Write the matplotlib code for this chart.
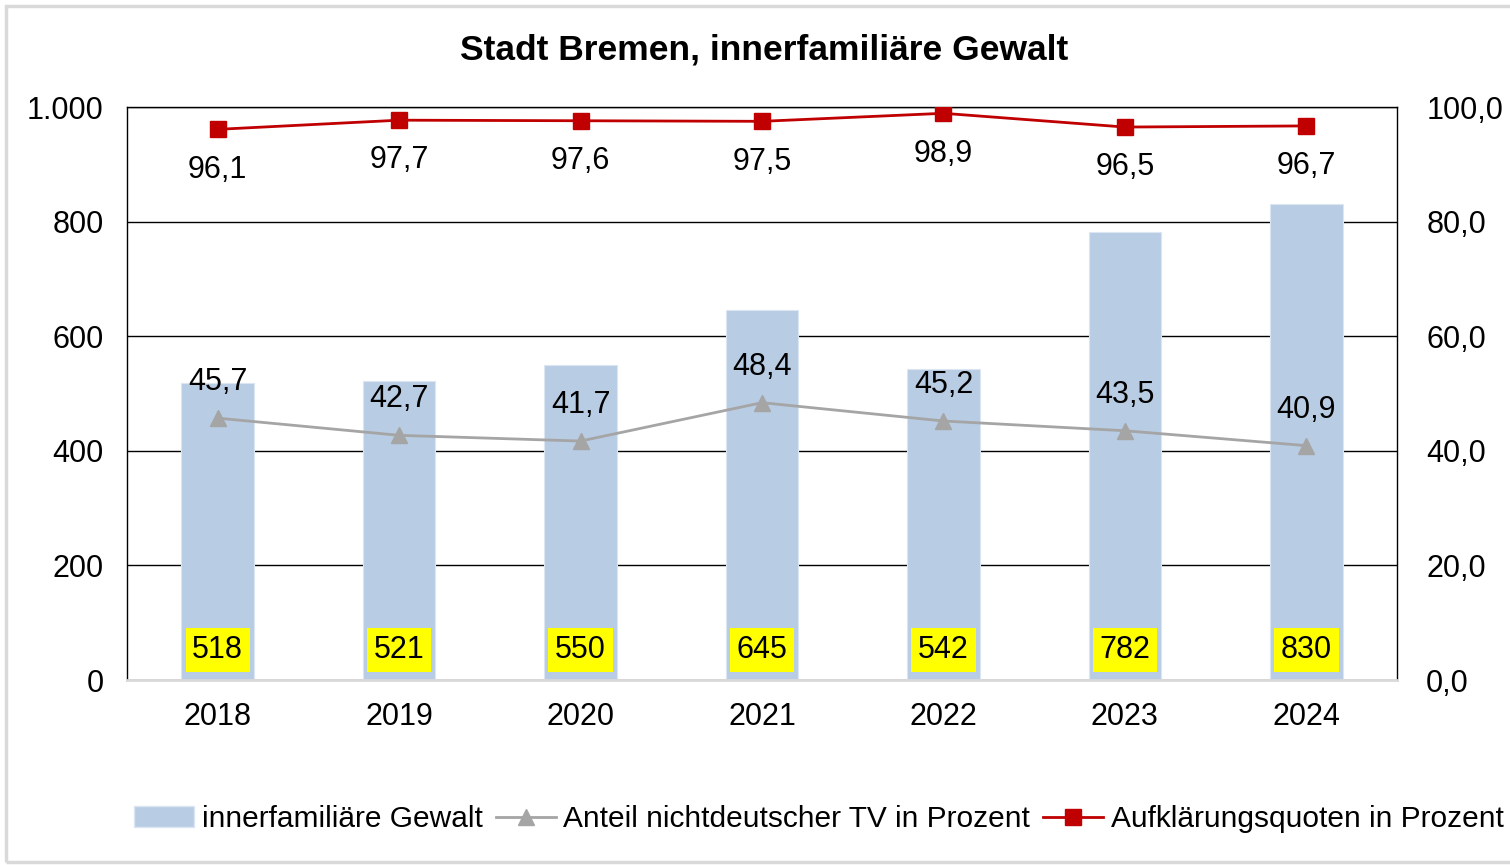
import matplotlib.pyplot as plt
from matplotlib.patches import Rectangle
from matplotlib.lines import Line2D
from matplotlib.ticker import FuncFormatter

plt.rcParams['font.family'] = ['Liberation Sans', 'DejaVu Sans']

jahre = ['2018', '2019', '2020', '2021', '2022', '2023', '2024']
faelle = [518, 521, 550, 645, 542, 782, 830]
anteil_ndt = [45.7, 42.7, 41.7, 48.4, 45.2, 43.5, 40.9]
aq = [96.1, 97.7, 97.6, 97.5, 98.9, 96.5, 96.7]

fs = 22
bar_col = '#B8CCE4'
grau = '#A5A5A5'
rot = '#C00000'

fig = plt.figure(figsize=(15.1, 8.65), dpi=100)
ax = fig.add_axes([127 / 1510, 185 / 865, 1270 / 1510, 573 / 865])
x = list(range(len(jahre)))

ax.bar(x, faelle, width=0.4, color=bar_col, edgecolor='#DCE6F2', linewidth=0.8, zorder=2)
ax.set_xlim(-0.5, len(jahre) - 0.5)
ax.set_ylim(0, 1000)
ax.set_yticks(range(0, 1001, 200))
ax.yaxis.set_major_formatter(FuncFormatter(lambda v, p: f'{int(v):,}'.replace(',', '.')))
ax.grid(axis='y', color='black', linewidth=1)
ax.set_axisbelow(True)
ax.set_xticks(x)
ax.set_xticklabels(jahre)
ax.tick_params(axis='x', length=0, pad=16, labelsize=fs)
ax.tick_params(axis='y', length=0, pad=17, labelsize=fs)
for s in ['top', 'left', 'right']:
    ax.spines[s].set_color('black')
    ax.spines[s].set_linewidth(1)
ax.spines['bottom'].set_color('#D9D9D9')
ax.spines['bottom'].set_linewidth(2)

# Fallzahlen unten im gelben Kasten
for xi, v in zip(x, faelle):
    ax.text(xi, 52, str(v), ha='center', va='center', fontsize=fs, zorder=5,
            bbox=dict(boxstyle='square,pad=0.22', facecolor='yellow', edgecolor='none'))

ax2 = ax.twinx()
ax2.set_ylim(0, 100)
ax2.set_yticks(range(0, 101, 20))
ax2.yaxis.set_major_formatter(FuncFormatter(lambda v, p: f'{v:.1f}'.replace('.', ',')))
ax2.tick_params(axis='y', length=0, pad=21, labelsize=fs)
for s in ax2.spines.values():
    s.set_visible(False)

ax2.plot(x, anteil_ndt, color=grau, linewidth=2, marker='^', markersize=11, zorder=3)
ax2.plot(x, aq, color=rot, linewidth=2, marker='s', markersize=12, zorder=3)

for xi, v in zip(x, anteil_ndt):
    ax2.annotate(f'{v:.1f}'.replace('.', ','), (xi, v), xytext=(0, 26), textcoords='offset points',
                 ha='center', va='center', fontsize=fs)
for xi, v in zip(x, aq):
    ax2.annotate(f'{v:.1f}'.replace('.', ','), (xi, v), xytext=(0, -29), textcoords='offset points',
                 ha='center', va='center', fontsize=fs)

fig.text(764 / 1510, 1 - 50 / 865, 'Stadt Bremen, innerfamiliäre Gewalt', ha='center', va='center',
         fontsize=25.5, fontweight='bold')

handles = [Rectangle((0, 0), 1, 1, facecolor=bar_col, edgecolor='#DCE6F2'),
           Line2D([], [], color=grau, linewidth=2, marker='^', markersize=11),
           Line2D([], [], color=rot, linewidth=2, marker='s', markersize=12)]
labels = ['innerfamiliäre Gewalt', 'Anteil nichtdeutscher TV in Prozent', 'Aufklärungsquoten in Prozent']
fig.legend(handles, labels, loc='center', bbox_to_anchor=(819 / 1510, 1 - 819 / 865), ncol=3,
           frameon=False, fontsize=21.5, handlelength=2.0, handletextpad=0.25, columnspacing=0.45,
           borderpad=0, borderaxespad=0)

fig.patches.append(Rectangle((6 / 1510, 3 / 865), 1.1, 856 / 865, transform=fig.transFigure,
                             facecolor='none', edgecolor='#D9D9D9', linewidth=2.5, clip_on=False))

fig.savefig('out.png', dpi=100)
